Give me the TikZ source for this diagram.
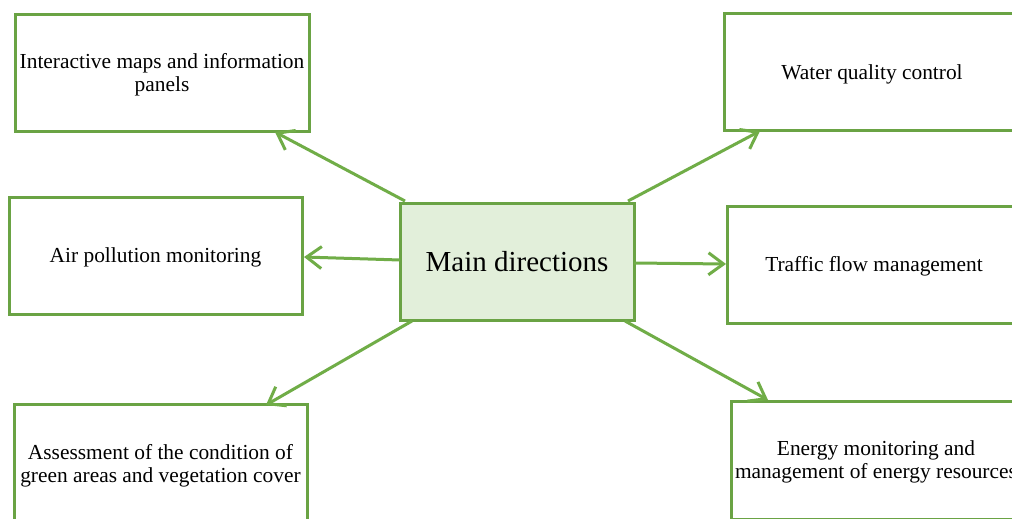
\documentclass[tikz,border=0pt]{standalone}
\usepackage{fontspec}
\setmainfont{Liberation Serif}
\usetikzlibrary{arrows.meta}
\definecolor{boxgreen}{HTML}{6AA344}
\definecolor{arrgreen}{HTML}{70AD47}
\definecolor{mainfill}{HTML}{E2EFDA}
\newcommand\btxt[1]{\raisebox{-2.5pt}[\height][\depth]{\begin{tabular}{@{}c@{}}#1\end{tabular}}}
\begin{document}
\begin{tikzpicture}[x=1pt,y=-1pt,
  box/.style={draw=boxgreen,line width=3pt,fill=white,inner sep=0pt,
    font=\fontsize{21.4}{23}\selectfont,align=center},
  mainbox/.style={box,fill=mainfill,font=\fontsize{29}{32}\selectfont},
  conn/.style={draw=arrgreen,line width=3pt,
    -{Straight Barb[length=15pt,width=22pt,line width=3pt]}}]
\useasboundingbox (0,0) rectangle (1012,519);
\clip (0,0) rectangle (1012,519);
\fill[white] (0,0) rectangle (1012,519);
\node[box,minimum width=294pt,minimum height=116pt] (maps) at (162,73)
  {\btxt{Interactive maps and information\\panels}};
\node[box,minimum width=296pt,minimum height=116pt] (water) at (872,72)
  {\btxt{Water quality control}};
\node[box,minimum width=293pt,minimum height=117pt] (air) at (155.5,255.5)
  {\btxt{Air pollution monitoring}};
\node[mainbox,minimum width=234pt,minimum height=117pt] (main) at (517,261.5)
  {Main directions};
\node[box,minimum width=294pt,minimum height=117pt] (traffic) at (874,264.5)
  {\btxt{Traffic flow management}};
\node[box,minimum width=293pt,minimum height=120pt] (green) at (160.5,464)
  {\btxt{Assessment of the condition of\\green areas and vegetation cover}};
\node[box,minimum width=290pt,minimum height=118pt] (energy) at (876,460)
  {\btxt{Energy monitoring and\\management of energy resources}};
\coordinate (mtl) at (405,201);
\coordinate (mtr) at (628,201);
\coordinate (mbl) at (412,321);
\coordinate (mbr) at (625,321);
\coordinate (ml) at (400,260);
\coordinate (mr) at (634,263);
\coordinate (tmaps) at (275,132);
\coordinate (twater) at (760,131);
\coordinate (tair) at (304,257);
\coordinate (ttraffic) at (726,264);
\coordinate (tgreen) at (266,405);
\coordinate (tenergy) at (768,400);
\draw[conn] (mtl) -- (tmaps);
\draw[conn] (mtr) -- (twater);
\draw[conn] (ml) -- (tair);
\draw[conn] (mr) -- (ttraffic);
\draw[conn] (mbl) -- (tgreen);
\draw[conn] (mbr) -- (tenergy);
\end{tikzpicture}
\end{document}
